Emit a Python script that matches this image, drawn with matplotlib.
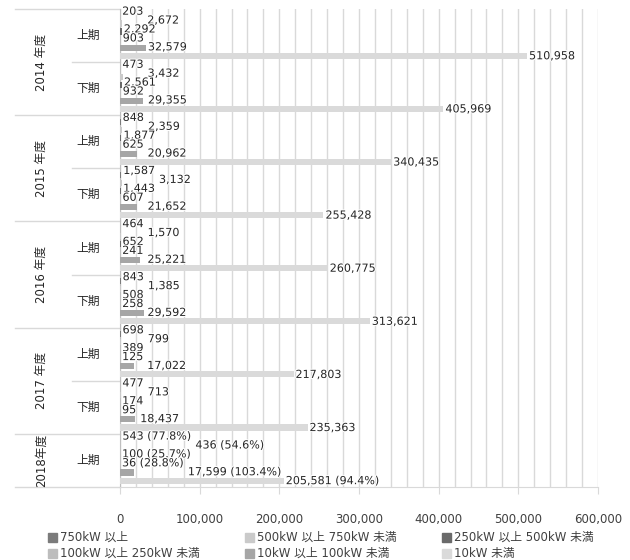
import numpy as np
import matplotlib
matplotlib.use('Agg')
import matplotlib.pyplot as plt
import matplotlib.patheffects as pe
from matplotlib.patches import Rectangle
from matplotlib.transforms import blended_transform_factory
from matplotlib.ticker import FuncFormatter, MultipleLocator

plt.rcParams['font.family'] = ['DejaVu Sans', 'Noto Sans CJK JP']

# 年度・期
years = ['2014 年度', '2015 年度', '2016 年度', '2017 年度', '2018年度']
halves = ['上期', '下期', '上期', '下期', '上期', '下期', '上期', '下期', '上期']

series_names = ['750kW 以上', '500kW 以上 750kW 未満', '250kW 以上 500kW 未満',
                '100kW 以上 250kW 未満', '10kW 以上 100kW 未満', '10kW 未満']
colors = ['#7b7b7b', '#cacaca', '#6a6a6a', '#bdbdbd', '#a6a6a6', '#dadada']

kw750_over = [203, 473, 848, 1587, 464, 843, 698, 477, 543]
kw500_750 = [2672, 3432, 2359, 3132, 1570, 1385, 799, 713, 436]
kw250_500 = [2292, 2561, 1877, 1443, 652, 508, 389, 174, 100]
kw100_250 = [903, 932, 625, 607, 241, 258, 125, 95, 36]
kw10_100 = [32579, 29355, 20962, 21652, 25221, 29592, 17022, 18437, 17599]
kw10_under = [510958, 405969, 340435, 255428, 260775, 313621, 217803, 235363, 205581]
data = [kw750_over, kw500_750, kw250_500, kw100_250, kw10_100, kw10_under]

# 2018年度上期の前年同期比(%)
pct_2018 = [77.8, 54.6, 25.7, 28.8, 103.4, 94.4]

W, H = 630, 560
fig = plt.figure(figsize=(6.3, 5.6), dpi=100)
ax = fig.add_axes([120 / W, 1 - 487 / H, 478 / W, 478 / H])

n = len(halves)
y = np.arange(n)
step = 0.152
bh = 0.115
for j, vals in enumerate(data):
    ax.barh(y + (j - 2.5) * step, vals, height=bh, color=colors[j], zorder=3)

ax.set_xlim(0, 600000)
ax.set_ylim(n - 0.5, -0.5)
ax.xaxis.set_major_locator(MultipleLocator(100000))
ax.xaxis.set_minor_locator(MultipleLocator(20000))
ax.xaxis.set_major_formatter(FuncFormatter(lambda v, p: f'{int(v):,}'))
ax.grid(which='both', axis='x', color='#d9d9d9', lw=1, zorder=0)
ax.set_yticks([])
for s in ['top', 'right']:
    ax.spines[s].set_visible(False)
ax.spines['left'].set_color('#bfbfbf')
ax.spines['bottom'].set_color('#d9d9d9')
ax.tick_params(axis='x', which='major', length=5, color='#d9d9d9',
               pad=14, labelsize=8.5, labelcolor='#404040')
ax.tick_params(axis='x', which='minor', length=0)

# データラベル(小さい値のラベルは前のラベルの右に並べる)
halo = [pe.withStroke(linewidth=1.5, foreground='white')]
r = fig.canvas.get_renderer()
after = {1: 0, 4: 3, 5: 4}
lstep = 0.168
for i in range(n):
    txts = {}
    for j in range(6):
        v = data[j][i]
        s = f'{v:,}'
        if i == n - 1:
            s += f' ({pct_2018[j]}%)'
        yc = i - 0.03 + (j - 2.5) * lstep
        xpix, ypix = ax.transData.transform((v, yc))
        xpix += 2
        if j in after:
            xpix = max(xpix, txts[after[j]].get_window_extent(r).x1 + 4)
        xd = ax.transData.inverted().transform((xpix, ypix))[0]
        txts[j] = ax.text(xd, yc, s, fontsize=8, color='#262626',
                          ha='left', va='center', zorder=5, path_effects=halo)

# 左側の区分ラベルと区切り線
bt = blended_transform_factory(fig.transFigure, ax.transData)
for b in [-0.5, 1.5, 3.5, 5.5, 7.5, 8.5]:
    ax.plot([15 / W, 120 / W], [b, b], transform=bt, color='#d9d9d9',
            lw=1, clip_on=False)
for b in [0.5, 2.5, 4.5, 6.5]:
    ax.plot([72 / W, 120 / W], [b, b], transform=bt, color='#d9d9d9',
            lw=1, clip_on=False)
year_pos = [0.5, 2.5, 4.5, 6.5, 8]
for yp, name in zip(year_pos, years):
    ax.text(41 / W, yp, name, transform=bt, rotation=90, ha='center',
            va='center', fontsize=8.5, color='#262626')
for i, h in enumerate(halves):
    ax.text(88 / W, i, h, transform=bt, ha='center', va='center',
            fontsize=8.5, color='#262626')
ax.set_xlim(0, 600000)
ax.set_ylim(n - 0.5, -0.5)

# 凡例
for k, name in enumerate(series_names):
    row, col = divmod(k, 3)
    x0 = 48 + 197 * col
    yc = 537 + 16 * row
    fig.patches.append(Rectangle((x0 / W, 1 - (yc + 4.5) / H), 9 / W, 9 / H,
                                 transform=fig.transFigure, color=colors[k]))
    fig.text((x0 + 12) / W, 1 - yc / H, name, ha='left', va='center',
             fontsize=8.5, color='#404040')

fig.savefig('out.png', dpi=100)
